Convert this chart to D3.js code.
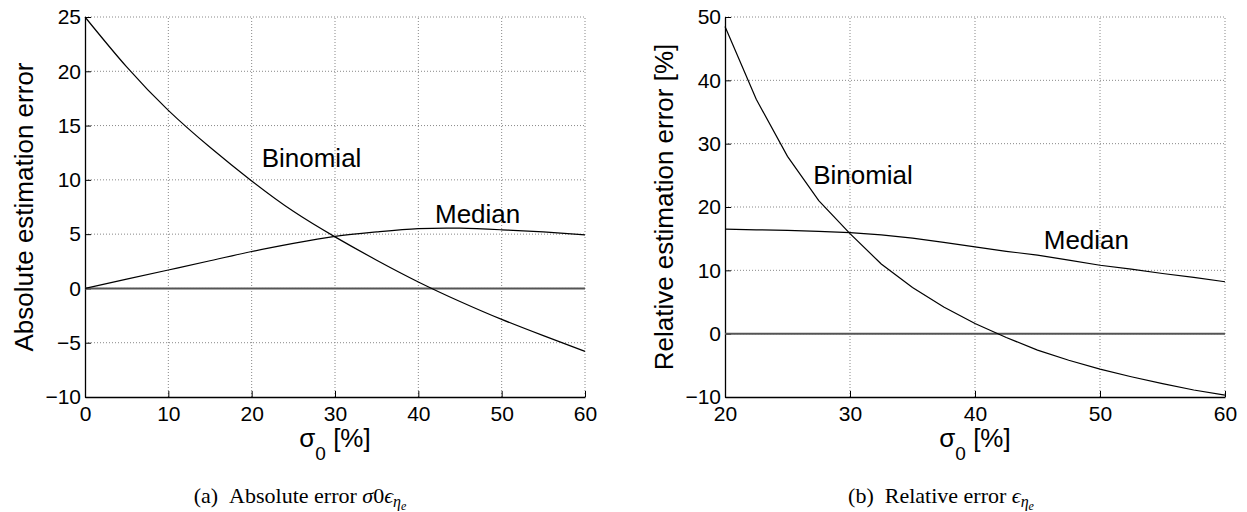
<!DOCTYPE html>
<html>
<head>
<meta charset="utf-8">
<script src="https://cdn.jsdelivr.net/npm/d3@7"></script>
<style>
  body { margin: 0; background: #fff; }
  svg { display: block; }
  .tick text { font-family: "Liberation Sans", Arial, Helvetica, sans-serif; font-size: 21px; fill: #000; }
  .lbl { font-family: "Liberation Sans", Arial, Helvetica, sans-serif; font-size: 26px; fill: #000; }
  .cap { font-family: "Liberation Serif", "Times New Roman", serif; font-size: 22px; fill: #000; }
</style>
</head>
<body>
<div id="chart"></div>
<script>
// sigma_0 [%] sample points
const sigmaAbs = [0, 5, 10, 15, 20, 25, 30, 35, 40, 45, 50, 55, 60];
const binomialAbs = [25, 20.4, 16.4, 13.0, 9.9, 7.1, 4.75, 2.6, 0.6, -1.2, -2.85, -4.35, -5.8];
const medianAbs = [0, 0.85, 1.7, 2.55, 3.4, 4.15, 4.8, 5.2, 5.5, 5.55, 5.4, 5.2, 4.93];

const sigmaRel = [20, 22.5, 25, 27.5, 30, 32.5, 35, 37.5, 40, 42.5, 45, 47.5, 50, 52.5, 55, 57.5, 60];
const binomialRel = [48.5, 37, 28, 21, 15.8, 11, 7.3, 4.2, 1.6, -0.6, -2.6, -4.2, -5.6, -6.8, -7.9, -8.9, -9.7];
const medianRel = [16.5, 16.4, 16.3, 16.15, 15.95, 15.6, 15.1, 14.4, 13.7, 13.0, 12.4, 11.6, 10.8, 10.2, 9.5, 8.9, 8.2];

const xTicksAbs = [0, 10, 20, 30, 40, 50, 60];
const yTicksAbs = [-10, -5, 0, 5, 10, 15, 20, 25];
const xTicksRel = [20, 30, 40, 50, 60];
const yTicksRel = [-10, 0, 10, 20, 30, 40, 50];

const width = 1247, height = 512;

const svg = d3.select("#chart").append("svg")
  .attr("width", width)
  .attr("height", height);

function drawPanel(p) {
  const x = d3.scaleLinear().domain(p.xDomain).range([p.left, p.right]);
  const y = d3.scaleLinear().domain(p.yDomain).range([p.bottom, p.top]);
  const g = svg.append("g");

  // dotted grid
  g.selectAll(".vgrid").data(p.xTicks.slice(1)).enter().append("line")
    .attr("x1", d => x(d)).attr("x2", d => x(d))
    .attr("y1", p.bottom).attr("y2", p.top)
    .attr("stroke", "#888").attr("stroke-width", 1).attr("stroke-dasharray", "1,2");
  g.selectAll(".hgrid").data(p.yTicks.slice(1)).enter().append("line")
    .attr("x1", p.left).attr("x2", p.right)
    .attr("y1", d => y(d)).attr("y2", d => y(d))
    .attr("stroke", "#888").attr("stroke-width", 1).attr("stroke-dasharray", "1,2");

  // axes, ticks pointing inward
  const xa = g.append("g").attr("transform", "translate(0," + p.bottom + ")")
    .call(d3.axisBottom(x).tickValues(p.xTicks).tickSizeInner(-6).tickSizeOuter(0).tickPadding(9));
  const ya = g.append("g").attr("transform", "translate(" + p.left + ",0)")
    .call(d3.axisLeft(y).tickValues(p.yTicks).tickSizeInner(-6).tickSizeOuter(0).tickPadding(4));
  [xa, ya].forEach(a => {
    a.select(".domain").attr("stroke", "#000").attr("stroke-width", 1.3);
    a.selectAll(".tick line").attr("stroke", "#000");
  });

  // zero line
  g.append("line")
    .attr("x1", p.left).attr("x2", p.right)
    .attr("y1", y(0)).attr("y2", y(0))
    .attr("stroke", "#555").attr("stroke-width", 2);

  const line = d3.line()
    .x(d => x(d[0]))
    .y(d => y(d[1]))
    .curve(p.curve);

  p.series.forEach(s => {
    g.append("path")
      .datum(d3.zip(p.sigma, s))
      .attr("fill", "none")
      .attr("stroke", "#000")
      .attr("stroke-width", 1.2)
      .attr("d", line);
  });

  p.notes.forEach(n => {
    g.append("text").attr("class", "lbl")
      .attr("x", x(n.x)).attr("y", y(n.y))
      .text(n.text);
  });

  // y label
  g.append("text").attr("class", "lbl")
    .attr("transform", "translate(" + p.yLabelX + "," + ((p.top + p.bottom) / 2) + ") rotate(-90)")
    .attr("text-anchor", "middle")
    .text(p.yLabel);

  // x label sigma_0 [%]
  const xl = g.append("text").attr("class", "lbl")
    .attr("x", (p.left + p.right) / 2).attr("y", 447)
    .attr("text-anchor", "middle");
  xl.append("tspan").text("σ");
  xl.append("tspan").attr("dy", 13).attr("font-size", 19).text("0");
  xl.append("tspan").attr("dy", -13).text(" [%]");

  // caption
  const cap = g.append("text").attr("class", "cap")
    .attr("x", p.capX).attr("y", 503)
    .attr("text-anchor", "middle");
  cap.append("tspan").text(p.caption);
  p.capMath(cap);
}

drawPanel({
  xDomain: [0, 60], yDomain: [-10, 25],
  left: 85, right: 585, top: 17, bottom: 397,
  xTicks: xTicksAbs, yTicks: yTicksAbs,
  sigma: sigmaAbs, series: [binomialAbs, medianAbs],
  curve: d3.curveNatural,
  notes: [{x: 21.2, y: 11.2, text: "Binomial"}, {x: 42.0, y: 6.05, text: "Median"}],
  yLabel: "Absolute estimation error", yLabelX: 33,
  capX: 300, caption: "(a)\u2002Absolute error ",
  capMath: cap => {
    cap.append("tspan").attr("font-style", "italic").text("σ");
    cap.append("tspan").text("0");
    cap.append("tspan").attr("font-style", "italic").text("ϵ");
    cap.append("tspan").attr("font-style", "italic").attr("font-size", 16).attr("dy", 4).text("η");
    cap.append("tspan").attr("font-style", "italic").attr("font-size", 12).attr("dy", 3).text("e");
  }
});

drawPanel({
  xDomain: [20, 60], yDomain: [-10, 50],
  left: 725, right: 1225, top: 17, bottom: 397,
  xTicks: xTicksRel, yTicks: yTicksRel,
  sigma: sigmaRel, series: [binomialRel, medianRel],
  curve: d3.curveLinear,
  notes: [{x: 27.05, y: 23.6, text: "Binomial"}, {x: 45.5, y: 13.35, text: "Median"}],
  yLabel: "Relative estimation error [%]", yLabelX: 673,
  capX: 941, caption: "(b)\u2002Relative error ",
  capMath: cap => {
    cap.append("tspan").attr("font-style", "italic").text("ϵ");
    cap.append("tspan").attr("font-style", "italic").attr("font-size", 16).attr("dy", 4).text("η");
    cap.append("tspan").attr("font-style", "italic").attr("font-size", 12).attr("dy", 3).text("e");
  }
});
</script>
</body>
</html>
